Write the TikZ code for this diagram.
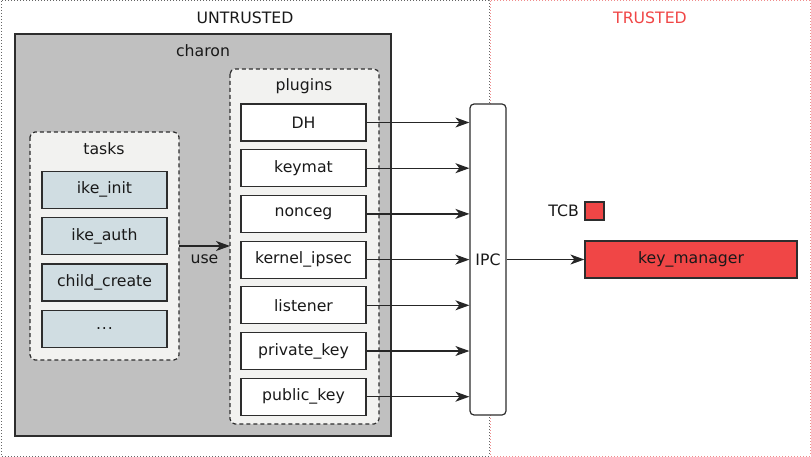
\documentclass[tikz,border=0pt]{standalone}
\usepackage{fontspec}
\setmainfont{DejaVu Sans}
\definecolor{trustred}{RGB}{240, 70, 70}
\definecolor{zonepink}{RGB}{240, 140, 140}
\definecolor{charongray}{RGB}{192, 192, 192}
\definecolor{groupfill}{RGB}{242, 242, 240}
\definecolor{taskblue}{RGB}{208, 221, 226}
\definecolor{edge}{RGB}{45, 45, 45}
\usetikzlibrary{arrows.meta, positioning}

\begin{document}
\begin{tikzpicture}[x=1pt, y=-1pt,
    every node/.style={font=\fontsize{15.7}{18}\selectfont, text=black!90},
    zone/.style={dotted, line width=1pt},
    group/.style={draw=edge, dashed, dash pattern=on 4pt off 3pt, line width=1.2pt, fill=groupfill, rounded corners=5pt},
    plugbox/.style={draw=edge, line width=1.2pt, fill=white, minimum width=125pt, minimum height=37pt, inner sep=0pt},
    taskbox/.style={plugbox, fill=taskblue},
    arr/.style={-{Stealth[length=14pt, width=10pt, inset=4pt]}, line width=1.3pt, draw=black!85}]
  \useasboundingbox (0,0) rectangle (811,457);

  % the two zones
  \draw[zone, draw=zonepink] (490,1) rectangle (810,456);
  \draw[zone, draw=black!60] (1,1) rectangle (489,456);
  \node (untrusted) at (245,18) {UNTRUSTED};
  \node[text=trustred] (trusted) at (650,18) {TRUSTED};

  % charon daemon
  \draw[draw=edge, line width=1.2pt, fill=charongray] (15,34) rectangle (391,436);
  \node (charon) at (203,51) {charon};

  % plugins
  \draw[group] (230,69) rectangle (379,424);
  \node (plugins) at (304,86) {plugins};
  \foreach \lbl [count=\i] in {DH, keymat, nonceg, kernel\_ipsec, listener, private\_key, public\_key}
    \node[plugbox] (plug\i) at (303.5, 76.8+45.7*\i) {\lbl};

  % tasks
  \draw[group] (30,132) rectangle (179,360);
  \node (tasks) at (104,149) {tasks};
  \foreach \lbl [count=\i] in {ike\_init, ike\_auth, child\_create}
    \node[taskbox] (task\i) at (104.5, 143.5+46.3*\i) {\lbl};
  \node[taskbox] (task4) at (104.5, 328.7) {.\kern1pt.\kern1pt.};
  \coordinate (tasksout) at (179,246);
  \coordinate (plugsin) at (230,246);
  \draw[arr] (tasksout) -- node[below=5pt] (use) {use} (plugsin);

  % IPC and trusted side
  \node[draw=edge, line width=1.2pt, fill=white, rounded corners=4pt, minimum width=36pt, minimum height=311pt, inner sep=0pt] (ipc) at (488,259.5) {IPC};
  \foreach \i in {1,...,7}
    \draw[arr] (plug\i.east) -- (plug\i.east -| ipc.west);

  \node[plugbox, fill=trustred, minimum width=212pt] (keymgr) at (691,259.5) {key\_manager};
  \draw[arr] (ipc.east |- keymgr.west) -- (keymgr.west);

  \node[draw=edge, line width=1.2pt, fill=trustred, minimum width=19pt, minimum height=18pt, inner sep=0pt] (tcbbox) at (594.5,211) {};
  \node[left=2pt of tcbbox] (tcb) {TCB};
\end{tikzpicture}
\end{document}
